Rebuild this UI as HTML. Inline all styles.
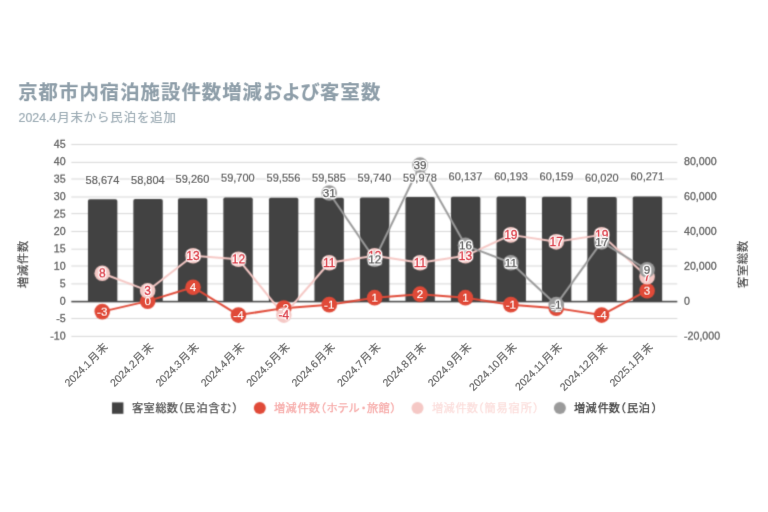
<!DOCTYPE html>
<html lang="ja"><head><meta charset="utf-8"><title>京都市内宿泊施設件数増減および客室数</title>
<style>
html,body{margin:0;padding:0;background:#fff;}
body{width:768px;height:512px;overflow:hidden;font-family:"Liberation Sans", "Noto Sans CJK JP", sans-serif;}
svg{display:block;}
svg text{font-family:"Liberation Sans", "Noto Sans CJK JP", sans-serif;}
.ax{font-size:10.65px;fill:#666666;stroke:#666666;stroke-width:0.3px;}
.cat{font-size:11.0px;fill:#666666;stroke:#666666;stroke-width:0.18px;}
.at{font-size:11.4px;fill:#484848;stroke:#484848;stroke-width:0.18px;letter-spacing:0.6px;}
.bl{font-size:11.0px;fill:#626262;text-anchor:middle;}
.pl{text-anchor:middle;}
.leg{font-size:11.2px;font-feature-settings:'palt';stroke-width:0.25px;}
</style></head><body>
<svg width="768" height="512" viewBox="0 0 768 512">
<defs>
<filter id="halo" x="0" y="0" width="768" height="512" filterUnits="userSpaceOnUse" color-interpolation-filters="sRGB"><feGaussianBlur in="SourceAlpha" stdDeviation="0.8" result="b"/><feComponentTransfer in="b" result="a"><feFuncA type="linear" slope="4" intercept="0"/></feComponentTransfer><feFlood flood-color="#fff"/><feComposite in2="a" operator="in" result="h"/><feMerge><feMergeNode in="h"/><feMergeNode in="SourceGraphic"/></feMerge></filter>
<filter id="halo2" x="0" y="0" width="768" height="512" filterUnits="userSpaceOnUse" color-interpolation-filters="sRGB"><feGaussianBlur in="SourceAlpha" stdDeviation="1.0" result="b"/><feComponentTransfer in="b" result="a"><feFuncA type="linear" slope="6" intercept="0"/></feComponentTransfer><feFlood flood-color="#fff"/><feComposite in2="a" operator="in" result="h"/><feMerge><feMergeNode in="h"/><feMergeNode in="SourceGraphic"/></feMerge></filter>
<filter id="r50" x="0" y="0" width="768" height="512" filterUnits="userSpaceOnUse" color-interpolation-filters="sRGB"><feConvolveMatrix order="3" kernelMatrix="0.0009 0.0282 0.0009 0.0282 0.8836 0.0282 0.0009 0.0282 0.0009" preserveAlpha="false" edgeMode="duplicate"/></filter>
<filter id="s50" x="0" y="0" width="768" height="512" filterUnits="userSpaceOnUse" color-interpolation-filters="sRGB"><feConvolveMatrix order="3" kernelMatrix="0.0324 0.1152 0.0324 0.1152 0.4096 0.1152 0.0324 0.1152 0.0324" preserveAlpha="false" edgeMode="duplicate"/></filter>
<filter id="t48" x="0" y="0" width="768" height="512" filterUnits="userSpaceOnUse" color-interpolation-filters="sRGB"><feConvolveMatrix order="3" kernelMatrix="0.0288 0.3024 0.0288 0.0512 0.5376 0.0512 0.0000 0.0000 0.0000" preserveAlpha="false" edgeMode="duplicate"/></filter>
<filter id="t49" x="0" y="0" width="768" height="512" filterUnits="userSpaceOnUse" color-interpolation-filters="sRGB"><feConvolveMatrix order="3" kernelMatrix="0.0160 0.1680 0.0160 0.0640 0.6720 0.0640 0.0000 0.0000 0.0000" preserveAlpha="false" edgeMode="duplicate"/></filter>
<filter id="t50" x="0" y="0" width="768" height="512" filterUnits="userSpaceOnUse" color-interpolation-filters="sRGB"><feConvolveMatrix order="3" kernelMatrix="0.0064 0.0672 0.0064 0.0672 0.7056 0.0672 0.0064 0.0672 0.0064" preserveAlpha="false" edgeMode="duplicate"/></filter>
<filter id="t51" x="0" y="0" width="768" height="512" filterUnits="userSpaceOnUse" color-interpolation-filters="sRGB"><feConvolveMatrix order="3" kernelMatrix="0.0000 0.0000 0.0000 0.0640 0.6720 0.0640 0.0160 0.1680 0.0160" preserveAlpha="false" edgeMode="duplicate"/></filter>
<filter id="t52" x="0" y="0" width="768" height="512" filterUnits="userSpaceOnUse" color-interpolation-filters="sRGB"><feConvolveMatrix order="3" kernelMatrix="0.0000 0.0000 0.0000 0.0512 0.5376 0.0512 0.0288 0.3024 0.0288" preserveAlpha="false" edgeMode="duplicate"/></filter>
</defs>
<rect width="768" height="512" fill="#fff"/>
<g filter="url(#t51)">
<text x="18.20" y="99" font-size="19.3" font-weight="bold" fill="#8e9ea9" stroke="#8e9ea9" stroke-width="0.2" style="letter-spacing:1.12px">京都市内宿泊施設件数増減<tspan style="letter-spacing:-0.6px">およ</tspan><tspan style="letter-spacing:0.4px">び</tspan>客室数</text>
</g>
<g filter="url(#t50)">
<text x="18.50" y="122" font-size="12.4" fill="#9cabb4" stroke="#9cabb4" stroke-width="0.2">2024.4<tspan dx="0.8" style="letter-spacing:0.9px">月末から民泊を追加</tspan></text>
</g>
<g filter="url(#s50)">
<rect x="71.3" y="335.90" width="606.00" height="1" fill="#d6d6d6"/>
<rect x="71.3" y="318.00" width="606.00" height="1" fill="#d6d6d6"/>
<rect x="71.3" y="283.40" width="606.00" height="1" fill="#d6d6d6"/>
<rect x="71.3" y="265.50" width="606.00" height="1" fill="#d6d6d6"/>
<rect x="71.3" y="248.70" width="606.00" height="1" fill="#d6d6d6"/>
<rect x="71.3" y="231.00" width="606.00" height="1" fill="#d6d6d6"/>
<rect x="71.3" y="213.10" width="606.00" height="1" fill="#d6d6d6"/>
<rect x="71.3" y="196.50" width="606.00" height="1" fill="#d6d6d6"/>
<rect x="71.3" y="178.50" width="606.00" height="1" fill="#d6d6d6"/>
<rect x="71.3" y="161.90" width="606.00" height="1" fill="#d6d6d6"/>
<rect x="71.3" y="144.00" width="606.00" height="1" fill="#d6d6d6"/>
<path d="M87.95,301.60V201.07Q87.95,199.27 89.75,199.27H115.55Q117.35,199.27 117.35,201.07V301.60Z" fill="#424242"/>
<path d="M133.35,301.60V200.85Q133.35,199.05 135.15,199.05H160.95Q162.75,199.05 162.75,200.85V301.60Z" fill="#424242"/>
<path d="M177.95,301.60V200.05Q177.95,198.25 179.75,198.25H205.55Q207.35,198.25 207.35,200.05V301.60Z" fill="#424242"/>
<path d="M223.35,301.60V199.28Q223.35,197.48 225.15,197.48H250.95Q252.75,197.48 252.75,199.28V301.60Z" fill="#424242"/>
<path d="M268.95,301.60V199.53Q268.95,197.73 270.75,197.73H296.55Q298.35,197.73 298.35,199.53V301.60Z" fill="#424242"/>
<path d="M314.45,301.60V199.48Q314.45,197.68 316.25,197.68H342.05Q343.85,197.68 343.85,199.48V301.60Z" fill="#424242"/>
<path d="M359.95,301.60V199.21Q359.95,197.41 361.75,197.41H387.55Q389.35,197.41 389.35,199.21V301.60Z" fill="#424242"/>
<path d="M405.45,301.60V198.80Q405.45,197.00 407.25,197.00H433.05Q434.85,197.00 434.85,198.80V301.60Z" fill="#424242"/>
<path d="M450.95,301.60V198.52Q450.95,196.72 452.75,196.72H478.55Q480.35,196.72 480.35,198.52V301.60Z" fill="#424242"/>
<path d="M496.55,301.60V198.42Q496.55,196.62 498.35,196.62H524.15Q525.95,196.62 525.95,198.42V301.60Z" fill="#424242"/>
<path d="M541.95,301.60V198.48Q541.95,196.68 543.75,196.68H569.55Q571.35,196.68 571.35,198.48V301.60Z" fill="#424242"/>
<path d="M587.35,301.60V198.73Q587.35,196.93 589.15,196.93H614.95Q616.75,196.93 616.75,198.73V301.60Z" fill="#424242"/>
<path d="M632.75,301.60V198.29Q632.75,196.49 634.55,196.49H660.35Q662.15,196.49 662.15,198.29V301.60Z" fill="#424242"/>
<rect x="71.3" y="300.85" width="606.00" height="1.5" fill="#444"/>
</g>
<g filter="url(#t48)">
<text x="65.60" y="340" class="ax" text-anchor="end">-10</text>
</g>
<g filter="url(#t51)">
<text x="65.60" y="322" class="ax" text-anchor="end">-5</text>
</g>
<g filter="url(#t49)">
<text x="65.60" y="305" class="ax" text-anchor="end">0</text>
</g>
<g filter="url(#t52)">
<text x="65.60" y="287" class="ax" text-anchor="end">5</text>
</g>
<g filter="url(#t49)">
<text x="65.60" y="270" class="ax" text-anchor="end">10</text>
</g>
<g filter="url(#t52)">
<text x="65.60" y="252" class="ax" text-anchor="end">15</text>
</g>
<g filter="url(#t50)">
<text x="65.60" y="235" class="ax" text-anchor="end">20</text>
</g>
<g filter="url(#t48)">
<text x="65.60" y="218" class="ax" text-anchor="end">25</text>
</g>
<g filter="url(#t51)">
<text x="65.60" y="200" class="ax" text-anchor="end">30</text>
</g>
<g filter="url(#t48)">
<text x="65.60" y="183" class="ax" text-anchor="end">35</text>
</g>
<g filter="url(#t51)">
<text x="65.60" y="165" class="ax" text-anchor="end">40</text>
</g>
<g filter="url(#t49)">
<text x="65.60" y="148" class="ax" text-anchor="end">45</text>
</g>
<g filter="url(#t48)">
<text x="684.00" y="340" class="ax">-20,000</text>
</g>
<g filter="url(#t49)">
<text x="684.00" y="305" class="ax">0</text>
<text x="684.00" y="270" class="ax">20,000</text>
</g>
<g filter="url(#t50)">
<text x="684.00" y="235" class="ax">40,000</text>
</g>
<g filter="url(#t51)">
<text x="684.00" y="200" class="ax">60,000</text>
<text x="684.00" y="165" class="ax">80,000</text>
</g>
<g filter="url(#r50)">
<text class="cat" transform="translate(109.25,347.2) rotate(-45)" text-anchor="end"><tspan font-size="10.6">2024.1</tspan><tspan dx="0.6" style="letter-spacing:0.9px">月末</tspan></text>
<text class="cat" transform="translate(154.65,347.2) rotate(-45)" text-anchor="end"><tspan font-size="10.6">2024.2</tspan><tspan dx="0.6" style="letter-spacing:0.9px">月末</tspan></text>
<text class="cat" transform="translate(200.05,347.2) rotate(-45)" text-anchor="end"><tspan font-size="10.6">2024.3</tspan><tspan dx="0.6" style="letter-spacing:0.9px">月末</tspan></text>
<text class="cat" transform="translate(245.45,347.2) rotate(-45)" text-anchor="end"><tspan font-size="10.6">2024.4</tspan><tspan dx="0.6" style="letter-spacing:0.9px">月末</tspan></text>
<text class="cat" transform="translate(290.85,347.2) rotate(-45)" text-anchor="end"><tspan font-size="10.6">2024.5</tspan><tspan dx="0.6" style="letter-spacing:0.9px">月末</tspan></text>
<text class="cat" transform="translate(336.25,347.2) rotate(-45)" text-anchor="end"><tspan font-size="10.6">2024.6</tspan><tspan dx="0.6" style="letter-spacing:0.9px">月末</tspan></text>
<text class="cat" transform="translate(381.65,347.2) rotate(-45)" text-anchor="end"><tspan font-size="10.6">2024.7</tspan><tspan dx="0.6" style="letter-spacing:0.9px">月末</tspan></text>
<text class="cat" transform="translate(427.05,347.2) rotate(-45)" text-anchor="end"><tspan font-size="10.6">2024.8</tspan><tspan dx="0.6" style="letter-spacing:0.9px">月末</tspan></text>
<text class="cat" transform="translate(472.45,347.2) rotate(-45)" text-anchor="end"><tspan font-size="10.6">2024.9</tspan><tspan dx="0.6" style="letter-spacing:0.9px">月末</tspan></text>
<text class="cat" transform="translate(517.85,347.2) rotate(-45)" text-anchor="end"><tspan font-size="10.6">2024.10</tspan><tspan dx="0.6" style="letter-spacing:0.9px">月末</tspan></text>
<text class="cat" transform="translate(563.25,347.2) rotate(-45)" text-anchor="end"><tspan font-size="10.6">2024.11</tspan><tspan dx="0.6" style="letter-spacing:0.9px">月末</tspan></text>
<text class="cat" transform="translate(608.65,347.2) rotate(-45)" text-anchor="end"><tspan font-size="10.6">2024.12</tspan><tspan dx="0.6" style="letter-spacing:0.9px">月末</tspan></text>
<text class="cat" transform="translate(654.05,347.2) rotate(-45)" text-anchor="end"><tspan font-size="10.6">2025.1</tspan><tspan dx="0.6" style="letter-spacing:0.9px">月末</tspan></text>
<text class="at" transform="translate(27.2,264.2) rotate(-90)" text-anchor="middle">増減件数</text>
<text class="at" transform="translate(746.8,264.2) rotate(-90)" text-anchor="middle">客室総数</text>
</g>
<g filter="url(#s50)">
<rect x="112" y="402.4" width="11.4" height="11.4" fill="#424242"/>
<circle cx="259.8" cy="408.0" r="6.0" fill="#e04a38"/>
<circle cx="417.5" cy="408.0" r="6.0" fill="#f5c8c5"/>
<circle cx="559.9" cy="408.0" r="6.0" fill="#9a9a9a"/>
</g>
<g filter="url(#t51)">
<text x="132.00 143.40 155.50 166.80 177.70 184.10 196.50 208.50 220.30 232.75" y="412" class="leg" fill="#505050" stroke="#505050">客室総数（民泊含む）</text>
<text x="274.00 285.60 297.60 308.80 320.20 326.80 338.06 349.12 360.71 367.01 378.61 390.61" y="412" class="leg" fill="#f6a9a7" stroke="#f6a9a7">増減件数（ホテル・旅館）</text>
<text x="432.00 443.40 455.60 466.80 477.70 484.40 496.40 508.50 520.70 533.40" y="412" class="leg" fill="#fbdedc" stroke="#fbdedc">増減件数（簡易宿所）</text>
<text x="574.00 585.60 597.70 608.80 619.90 626.90 638.75 651.85" y="412" class="leg" fill="#3a3a3a" stroke="#3a3a3a">増減件数（民泊）</text>
</g>
<g filter="url(#s50)">
<path d="M102.25,311.61 L147.65,301.15 L193.05,287.20 L238.45,315.10 L283.85,308.13 L329.25,304.64 L374.65,297.66 L420.05,294.17 L465.45,297.66 L510.85,304.64 L556.25,308.13 L601.65,315.10 L647.05,290.69" fill="none" stroke="#e04a38" stroke-width="2" stroke-linejoin="round"/>
<path d="M102.25,273.25 L147.65,290.69 L193.05,255.81 L238.45,259.29 L283.85,315.10 L329.25,262.78 L374.65,255.81 L420.05,262.78 L465.45,255.81 L510.85,234.88 L556.25,241.85 L601.65,234.88 L647.05,276.73" fill="none" stroke="#f5c8c5" stroke-width="2" stroke-linejoin="round"/>
<path d="M329.25,193.02 L374.65,259.29 L420.05,165.12 L465.45,245.34 L510.85,262.78 L556.25,304.64 L601.65,241.85 L647.05,269.76" fill="none" stroke="#9a9a9a" stroke-width="2" stroke-linejoin="round"/>
<circle cx="102.25" cy="311.61" r="7.8" fill="#e04a38"/>
<circle cx="147.65" cy="301.15" r="7.8" fill="#e04a38"/>
<circle cx="193.05" cy="287.20" r="7.8" fill="#e04a38"/>
<circle cx="238.45" cy="315.10" r="7.8" fill="#e04a38"/>
<circle cx="283.85" cy="308.13" r="7.8" fill="#e04a38"/>
<circle cx="329.25" cy="304.64" r="7.8" fill="#e04a38"/>
<circle cx="374.65" cy="297.66" r="7.8" fill="#e04a38"/>
<circle cx="420.05" cy="294.17" r="7.8" fill="#e04a38"/>
<circle cx="465.45" cy="297.66" r="7.8" fill="#e04a38"/>
<circle cx="510.85" cy="304.64" r="7.8" fill="#e04a38"/>
<circle cx="556.25" cy="308.13" r="7.8" fill="#e04a38"/>
<circle cx="601.65" cy="315.10" r="7.8" fill="#e04a38"/>
<circle cx="647.05" cy="290.69" r="7.8" fill="#e04a38"/>
<circle cx="102.25" cy="273.25" r="7.8" fill="#f5c8c5"/>
<circle cx="147.65" cy="290.69" r="7.8" fill="#f5c8c5"/>
<circle cx="193.05" cy="255.81" r="7.8" fill="#f5c8c5"/>
<circle cx="238.45" cy="259.29" r="7.8" fill="#f5c8c5"/>
<circle cx="283.85" cy="315.10" r="7.8" fill="#f5c8c5"/>
<circle cx="329.25" cy="262.78" r="7.8" fill="#f5c8c5"/>
<circle cx="374.65" cy="255.81" r="7.8" fill="#f5c8c5"/>
<circle cx="420.05" cy="262.78" r="7.8" fill="#f5c8c5"/>
<circle cx="465.45" cy="255.81" r="7.8" fill="#f5c8c5"/>
<circle cx="510.85" cy="234.88" r="7.8" fill="#f5c8c5"/>
<circle cx="556.25" cy="241.85" r="7.8" fill="#f5c8c5"/>
<circle cx="601.65" cy="234.88" r="7.8" fill="#f5c8c5"/>
<circle cx="647.05" cy="276.73" r="7.8" fill="#f5c8c5"/>
<circle cx="329.25" cy="193.02" r="7.8" fill="#9a9a9a"/>
<circle cx="374.65" cy="259.29" r="7.8" fill="#9a9a9a"/>
<circle cx="420.05" cy="165.12" r="7.8" fill="#9a9a9a"/>
<circle cx="465.45" cy="245.34" r="7.8" fill="#9a9a9a"/>
<circle cx="510.85" cy="262.78" r="7.8" fill="#9a9a9a"/>
<circle cx="556.25" cy="304.64" r="7.8" fill="#9a9a9a"/>
<circle cx="601.65" cy="241.85" r="7.8" fill="#9a9a9a"/>
<circle cx="647.05" cy="269.76" r="7.8" fill="#9a9a9a"/>
</g>
<g filter="url(#t48)">
<text x="102.25" y="316" class="pl" font-size="11.6" fill="#fff" stroke="#fff" stroke-width="0.15">-3</text>
<text x="329.25" y="309" class="pl" font-size="11.6" fill="#fff" stroke="#fff" stroke-width="0.15">-1</text>
<text x="374.65" y="302" class="pl" font-size="11.6" fill="#fff" stroke="#fff" stroke-width="0.15">1</text>
<text x="465.45" y="302" class="pl" font-size="11.6" fill="#fff" stroke="#fff" stroke-width="0.15">1</text>
<text x="510.85" y="309" class="pl" font-size="11.6" fill="#fff" stroke="#fff" stroke-width="0.15">-1</text>
<text x="647.05" y="295" class="pl" font-size="11.6" fill="#fff" stroke="#fff" stroke-width="0.15">3</text>
</g>
<g filter="url(#t51)">
<text x="147.65" y="305" class="pl" font-size="11.6" fill="#fff" stroke="#fff" stroke-width="0.15">0</text>
<text x="193.05" y="291" class="pl" font-size="11.6" fill="#fff" stroke="#fff" stroke-width="0.15">4</text>
<text x="238.45" y="319" class="pl" font-size="11.6" fill="#fff" stroke="#fff" stroke-width="0.15">-4</text>
<text x="283.85" y="312" class="pl" font-size="11.6" fill="#fff" stroke="#fff" stroke-width="0.15">-2</text>
<text x="420.05" y="298" class="pl" font-size="11.6" fill="#fff" stroke="#fff" stroke-width="0.15">2</text>
<text x="556.25" y="312" class="pl" font-size="11.6" fill="#fff" stroke="#fff" stroke-width="0.15">-2</text>
<text x="601.65" y="319" class="pl" font-size="11.6" fill="#fff" stroke="#fff" stroke-width="0.15">-4</text>
</g>
<g filter="url(#t49)">
<g filter="url(#halo)">
<text x="147.65" y="295" class="pl" font-size="12" fill="#da3641" stroke="#da3641" stroke-width="0.3">3</text>
<text x="647.05" y="281" class="pl" font-size="12" fill="#da3641" stroke="#da3641" stroke-width="0.3">7</text>
</g>
</g>
<g filter="url(#t50)">
<g filter="url(#halo)">
<text x="193.05" y="260" class="pl" font-size="12" fill="#da3641" stroke="#da3641" stroke-width="0.3">13</text>
<text x="329.25" y="267" class="pl" font-size="12" fill="#da3641" stroke="#da3641" stroke-width="0.3">11</text>
<text x="374.65" y="260" class="pl" font-size="12" fill="#da3641" stroke="#da3641" stroke-width="0.3">13</text>
<text x="420.05" y="267" class="pl" font-size="12" fill="#da3641" stroke="#da3641" stroke-width="0.3">11</text>
<text x="465.45" y="260" class="pl" font-size="12" fill="#da3641" stroke="#da3641" stroke-width="0.3">13</text>
<text x="510.85" y="239" class="pl" font-size="12" fill="#da3641" stroke="#da3641" stroke-width="0.3">19</text>
<text x="556.25" y="246" class="pl" font-size="12" fill="#da3641" stroke="#da3641" stroke-width="0.3">17</text>
<text x="601.65" y="239" class="pl" font-size="12" fill="#da3641" stroke="#da3641" stroke-width="0.3">19</text>
</g>
</g>
<g filter="url(#t51)">
<g filter="url(#halo)">
<text x="283.85" y="319" class="pl" font-size="12" fill="#da3641" stroke="#da3641" stroke-width="0.3">-4</text>
</g>
</g>
<g filter="url(#t52)">
<g filter="url(#halo)">
<text x="102.25" y="277" class="pl" font-size="12" fill="#da3641" stroke="#da3641" stroke-width="0.3">8</text>
<text x="238.45" y="263" class="pl" font-size="12" fill="#da3641" stroke="#da3641" stroke-width="0.3">12</text>
</g>
</g>
<g filter="url(#t48)">
<g filter="url(#halo2)">
<text x="556.25" y="309" class="pl" font-size="11.7" fill="#5a5a5a" stroke="#5a5a5a" stroke-width="0.25">-1</text>
</g>
</g>
<g filter="url(#t49)">
<g filter="url(#halo2)">
<text x="510.85" y="267" class="pl" font-size="11.7" fill="#5a5a5a" stroke="#5a5a5a" stroke-width="0.25">11</text>
<text x="647.05" y="274" class="pl" font-size="11.7" fill="#5a5a5a" stroke="#5a5a5a" stroke-width="0.25">9</text>
</g>
</g>
<g filter="url(#t50)">
<g filter="url(#halo2)">
<text x="329.25" y="197" class="pl" font-size="11.7" fill="#5a5a5a" stroke="#5a5a5a" stroke-width="0.25">31</text>
<text x="601.65" y="246" class="pl" font-size="11.7" fill="#5a5a5a" stroke="#5a5a5a" stroke-width="0.25">17</text>
</g>
</g>
<g filter="url(#t51)">
<g filter="url(#halo2)">
<text x="420.05" y="169" class="pl" font-size="11.7" fill="#5a5a5a" stroke="#5a5a5a" stroke-width="0.25">39</text>
</g>
</g>
<g filter="url(#t52)">
<g filter="url(#halo2)">
<text x="374.65" y="263" class="pl" font-size="11.7" fill="#5a5a5a" stroke="#5a5a5a" stroke-width="0.25">12</text>
<text x="465.45" y="249" class="pl" font-size="11.7" fill="#5a5a5a" stroke="#5a5a5a" stroke-width="0.25">16</text>
</g>
</g>
<g filter="url(#t48)">
<g filter="url(#halo)">
<text x="237.85" y="182" class="bl" stroke="#626262" stroke-width="0.22">59,700</text>
<text x="283.45" y="182" class="bl" stroke="#626262" stroke-width="0.22">59,556</text>
<text x="328.95" y="182" class="bl" stroke="#626262" stroke-width="0.22">59,585</text>
<text x="374.45" y="182" class="bl" stroke="#626262" stroke-width="0.22">59,740</text>
<text x="419.95" y="182" class="bl" stroke="#626262" stroke-width="0.22">59,978</text>
<text x="601.85" y="182" class="bl" stroke="#626262" stroke-width="0.22">60,020</text>
</g>
</g>
<g filter="url(#t49)">
<g filter="url(#halo)">
<text x="192.45" y="183" class="bl" stroke="#626262" stroke-width="0.22">59,260</text>
</g>
</g>
<g filter="url(#t50)">
<g filter="url(#halo)">
<text x="102.45" y="184" class="bl" stroke="#626262" stroke-width="0.22">58,674</text>
<text x="147.85" y="184" class="bl" stroke="#626262" stroke-width="0.22">58,804</text>
</g>
</g>
<g filter="url(#t52)">
<g filter="url(#halo)">
<text x="465.45" y="180" class="bl" stroke="#626262" stroke-width="0.22">60,137</text>
<text x="511.05" y="180" class="bl" stroke="#626262" stroke-width="0.22">60,193</text>
<text x="556.45" y="180" class="bl" stroke="#626262" stroke-width="0.22">60,159</text>
<text x="647.25" y="180" class="bl" stroke="#626262" stroke-width="0.22">60,271</text>
</g>
</g>
</svg>
</body></html>
